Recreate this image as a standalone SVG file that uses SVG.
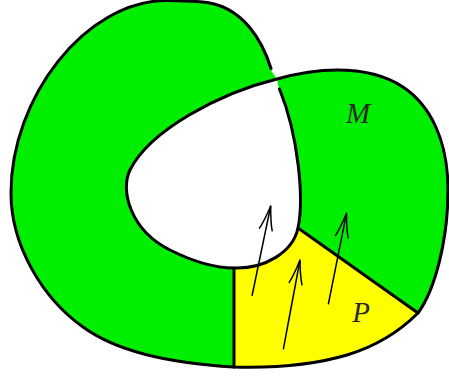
<svg xmlns="http://www.w3.org/2000/svg" width="449" height="377" viewBox="0 0 449 377">
<style>
.edge{fill:none;stroke:#000;stroke-width:3;stroke-linejoin:round;stroke-linecap:round}
.arrow{fill:none;stroke:#000;stroke-width:1.5;marker-end:url(#to)}
.lbl{font-family:"Liberation Serif",serif;font-style:italic;font-size:29px;fill:#2a2a2a;text-anchor:middle}
</style>
<defs>
<marker id="to" markerUnits="userSpaceOnUse" markerWidth="30" markerHeight="20" viewBox="-26 -10 30 20" refX="0" refY="0" orient="auto">
<path d="M-24,-6.5 C-18,-4 -6,-1.2 0,0 M-24,6.5 C-18,4 -6,1.2 0,0" fill="none" stroke="#000" stroke-width="1.5" stroke-linecap="round"/>
</marker>
</defs>
<g id="M">
<path fill="#00ee00" d="M272,72 C266,48 246,4 200,1.7 C189,1.2 178,0.5 167,0.5 C85,0.5 11,98 11,193 C11,245 42,298 83,327 C120,354 180,364 234,367 C270,368 310,366 347,355 C380,345 403,328 418,313 C435,290 448,240 448,190 C448,140 430,105 403,87 C385,75 360,70 337,70 C315,70 295,74 277,79 Z"/>
<path fill="#fff" d="M277,79 C220,93 150,130 130,170 C120,190 130,230 170,250 C190,260 212,268 234,268 C265,269 293,252 298,228 C304,200 299,135 278,85 Z"/>
<text class="lbl" x="358" y="123">M</text>
</g>
<g id="P">
<path fill="#ffff00" d="M234,268 L234,367 C270,368 310,366 347,355 C380,345 403,328 418,313 L298,228 C293,252 265,269 234,268 Z"/>
<text class="lbl" x="361" y="322">P</text>
</g>
<g id="connectors">
<path class="edge" d="M271,68.5 C264,46 245,4 200,1.7 C189,1.2 178,0.5 167,0.5 C85,0.5 11,98 11,193 C11,245 42,298 83,327 C120,354 180,364 234,367 C270,368 310,366 347,355 C380,345 403,328 418,313 C435,290 448,240 448,190 C448,140 430,105 403,87 C385,75 360,70 337,70 C315,70 295,74 277,79 C220,93 150,130 130,170 C120,190 130,230 170,250 C190,260 212,268 234,268 C265,269 293,252 298,228 C304,200 299,137 279.5,89"/>
<path class="edge" d="M234,268 V367"/>
<path class="edge" d="M298,228 L418,313"/>
<path class="arrow" d="M252,296 L270.7,206"/>
<path class="arrow" d="M283.3,349.3 L300,260"/>
<path class="arrow" d="M328.3,304.3 L346.5,213.3"/>
</g>
</svg>
